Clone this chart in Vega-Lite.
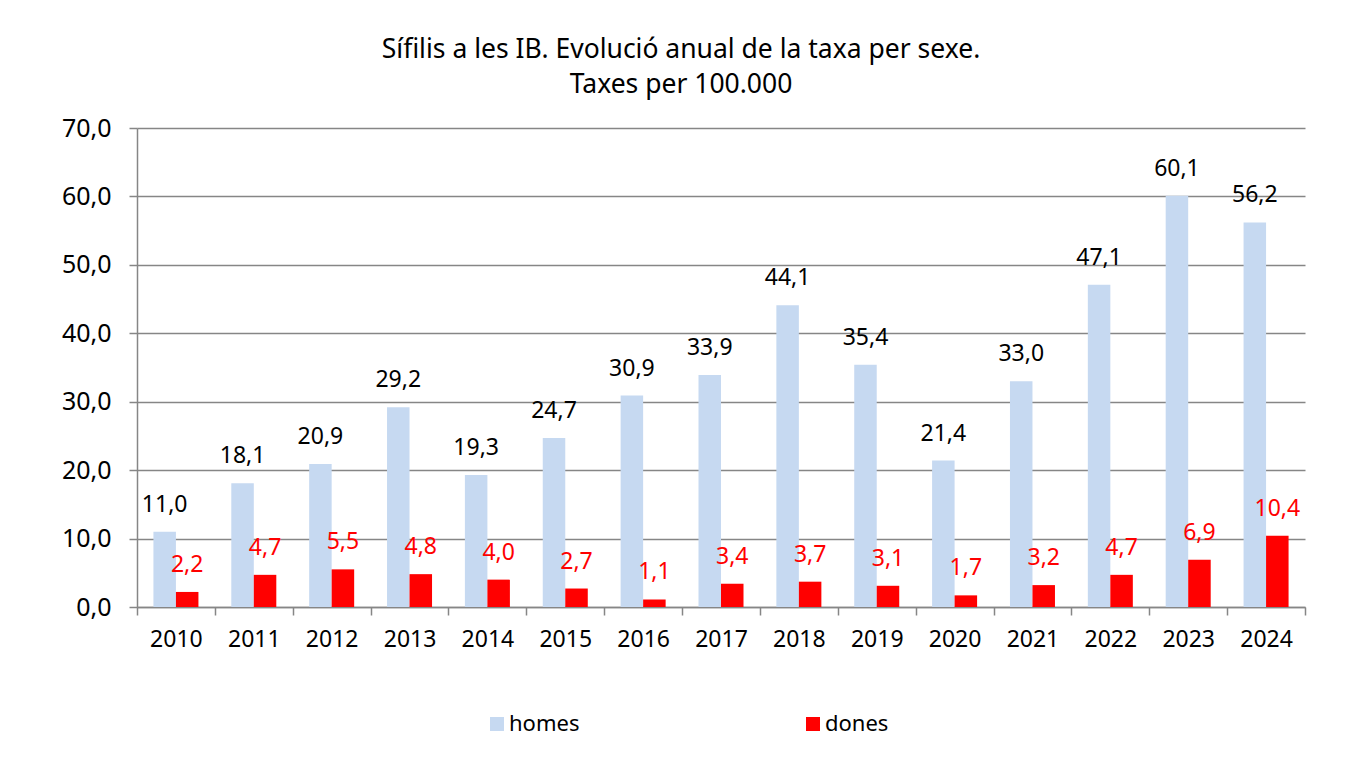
{
  "$schema": "https://vega.github.io/schema/vega-lite/v6.json",
  "width": 1168,
  "height": 479,
  "autosize": "none",
  "padding": {"left": 137, "top": 128, "right": 57, "bottom": 164},
  "background": "white",
  "config": {
    "locale": {"number": {"decimal": ",", "thousands": ".", "grouping": [3], "currency": ["", " €"]}},
    "font": "Noto Sans",
    "view": {"stroke": null}
  },
  "title": {
    "text": ["Sífilis a les IB. Evolució anual de la taxa per sexe.", "Taxes per 100.000"],
    "fontSize": 26.5,
    "fontWeight": "normal",
    "lineHeight": 35,
    "anchor": "middle",
    "dx": -40,
    "offset": 18,
    "color": "black"
  },
  "data": {
    "values": [
      {"year": "2010", "sexe": "homes", "taxa": 11.0},
      {"year": "2011", "sexe": "homes", "taxa": 18.1},
      {"year": "2012", "sexe": "homes", "taxa": 20.9},
      {"year": "2013", "sexe": "homes", "taxa": 29.2},
      {"year": "2014", "sexe": "homes", "taxa": 19.3},
      {"year": "2015", "sexe": "homes", "taxa": 24.7},
      {"year": "2016", "sexe": "homes", "taxa": 30.9},
      {"year": "2017", "sexe": "homes", "taxa": 33.9},
      {"year": "2018", "sexe": "homes", "taxa": 44.1},
      {"year": "2019", "sexe": "homes", "taxa": 35.4},
      {"year": "2020", "sexe": "homes", "taxa": 21.4},
      {"year": "2021", "sexe": "homes", "taxa": 33.0},
      {"year": "2022", "sexe": "homes", "taxa": 47.1},
      {"year": "2023", "sexe": "homes", "taxa": 60.1},
      {"year": "2024", "sexe": "homes", "taxa": 56.2},
      {"year": "2010", "sexe": "dones", "taxa": 2.2},
      {"year": "2011", "sexe": "dones", "taxa": 4.7},
      {"year": "2012", "sexe": "dones", "taxa": 5.5},
      {"year": "2013", "sexe": "dones", "taxa": 4.8},
      {"year": "2014", "sexe": "dones", "taxa": 4.0},
      {"year": "2015", "sexe": "dones", "taxa": 2.7},
      {"year": "2016", "sexe": "dones", "taxa": 1.1},
      {"year": "2017", "sexe": "dones", "taxa": 3.4},
      {"year": "2018", "sexe": "dones", "taxa": 3.7},
      {"year": "2019", "sexe": "dones", "taxa": 3.1},
      {"year": "2020", "sexe": "dones", "taxa": 1.7},
      {"year": "2021", "sexe": "dones", "taxa": 3.2},
      {"year": "2022", "sexe": "dones", "taxa": 4.7},
      {"year": "2023", "sexe": "dones", "taxa": 6.9},
      {"year": "2024", "sexe": "dones", "taxa": 10.4}
    ]
  },
  "encoding": {
    "x": {
      "field": "year",
      "type": "nominal",
      "scale": {"paddingInner": 0, "paddingOuter": 0},
      "axis": {
        "title": null,
        "labelAngle": 0,
        "tickBand": "extent",
        "tickSize": 8,
        "tickWidth": 1.5,
        "tickColor": "#868686",
        "domainColor": "#868686",
        "domainWidth": 1.5,
        "labelFontSize": 23,
        "labelPadding": 13,
        "labelColor": "black",
        "grid": false
      }
    },
    "xOffset": {
      "field": "sexe",
      "type": "nominal",
      "sort": ["homes", "dones"],
      "scale": {"paddingInner": 0, "paddingOuter": 0.73}
    },
    "y": {
      "field": "taxa",
      "type": "quantitative",
      "scale": {"domain": [0, 70], "nice": false},
      "axis": {
        "title": null,
        "values": [0, 10, 20, 30, 40, 50, 60, 70],
        "format": ".1f",
        "tickSize": 8,
        "tickWidth": 1.5,
        "tickColor": "#868686",
        "domainColor": "#868686",
        "domainWidth": 1.5,
        "gridColor": "#868686",
        "gridWidth": 1.5,
        "labelFontSize": 25,
        "labelPadding": 18,
        "labelColor": "black"
      }
    }
  },
  "layer": [
    {
      "mark": {"type": "bar"},
      "encoding": {
        "color": {
          "field": "sexe",
          "type": "nominal",
          "sort": ["homes", "dones"],
          "scale": {"domain": ["homes", "dones"], "range": ["#c6d9f1", "#ff0000"]},
          "legend": {
            "title": null,
            "orient": "none",
            "legendX": 349,
            "legendY": 585,
            "direction": "horizontal",
            "symbolType": "square",
            "symbolSize": 196,
            "symbolStrokeWidth": 0,
            "labelFontSize": 22,
            "labelColor": "black",
            "labelOffset": 1,
            "columnPadding": 222,
            "padding": 0
          }
        }
      }
    },
    {
      "mark": {"type": "text", "baseline": "middle", "dy": -27, "fontSize": 23},
      "encoding": {
        "text": {"field": "taxa", "type": "quantitative", "format": ".1f"},
        "color": {
          "condition": {"test": "datum.sexe === 'dones'", "value": "#ff0000"},
          "value": "black"
        }
      }
    }
  ]
}
